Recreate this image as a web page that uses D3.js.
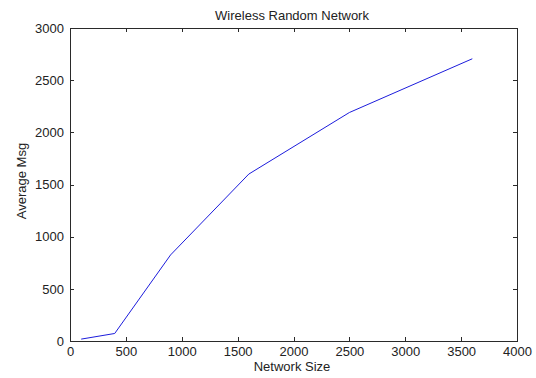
<!DOCTYPE html>
<html>
<head>
<meta charset="utf-8">
<script src="https://d3js.org/d3.v7.min.js"></script>
<style>
  html, body { margin: 0; padding: 0; background: #fff; }
  svg { display: block; font-family: "Liberation Sans", Arial, sans-serif; }
  .axis text { font-size: 13px; fill: #222; font-family: "Liberation Sans", Arial, sans-serif; }
  .axis path, .axis line { stroke: #2a2a2a; }
</style>
</head>
<body>
<script>
// Network sizes and the average number of messages measured at each
const networkSize = [100, 400, 900, 1600, 2500, 3600];
const averageMsg = [18, 72, 825, 1600, 2190, 2705];
const xTicks = [0, 500, 1000, 1500, 2000, 2500, 3000, 3500, 4000];
const yTicks = [0, 500, 1000, 1500, 2000, 2500, 3000];

const W = 536, H = 378;
const margin = { left: 70, right: 19, top: 28, bottom: 37 };
const iw = W - margin.left - margin.right;
const ih = H - margin.top - margin.bottom;

const svg = d3.select("body").append("svg")
  .attr("width", W).attr("height", H);

const g = svg.append("g")
  .attr("transform", `translate(${margin.left},${margin.top})`);

const x = d3.scaleLinear().domain([0, 4000]).range([0, iw]);
const y = d3.scaleLinear().domain([0, 3000]).range([ih, 0]);
const fmt = d3.format("d");

// Bottom and left axes with inward ticks, plus mirrored ticks on top and right
const tickLen = 4;
const axisBottomG = g.append("g").attr("class", "axis")
  .attr("transform", `translate(0,${ih})`)
  .call(d3.axisBottom(x).tickValues(xTicks).tickFormat(fmt)
    .tickSizeInner(-tickLen).tickSizeOuter(0).tickPadding(6));
const axisLeftG = g.append("g").attr("class", "axis")
  .call(d3.axisLeft(y).tickValues(yTicks).tickFormat(fmt)
    .tickSizeInner(-tickLen).tickSizeOuter(0).tickPadding(6));
const axisTopG = g.append("g").attr("class", "axis")
  .call(d3.axisTop(x).tickValues(xTicks).tickFormat("")
    .tickSizeInner(-tickLen).tickSizeOuter(0));
const axisRightG = g.append("g").attr("class", "axis")
  .attr("transform", `translate(${iw},0)`)
  .call(d3.axisRight(y).tickValues(yTicks).tickFormat("")
    .tickSizeInner(-tickLen).tickSizeOuter(0));

[axisBottomG, axisLeftG, axisTopG, axisRightG]
  .forEach(a => a.selectAll("path, line").attr("shape-rendering", "crispEdges"));

// Data line
const line = d3.line()
  .x((d, i) => x(networkSize[i]))
  .y(d => y(d));

g.append("path")
  .datum(averageMsg)
  .attr("fill", "none")
  .attr("stroke", "#1c1cdc")
  .attr("stroke-width", 1)
  .attr("d", line);

// Title and axis labels
svg.append("text")
  .attr("x", 292).attr("y", 20)
  .attr("text-anchor", "middle")
  .attr("font-size", 13).attr("fill", "#222")
  .text("Wireless Random Network");

svg.append("text")
  .attr("x", 292).attr("y", 371)
  .attr("text-anchor", "middle")
  .attr("font-size", 13).attr("fill", "#222")
  .text("Network Size");

svg.append("text")
  .attr("transform", "translate(25.5,181) rotate(-90)")
  .attr("text-anchor", "middle")
  .attr("font-size", 13).attr("fill", "#222")
  .text("Average Msg");
</script>
</body>
</html>
